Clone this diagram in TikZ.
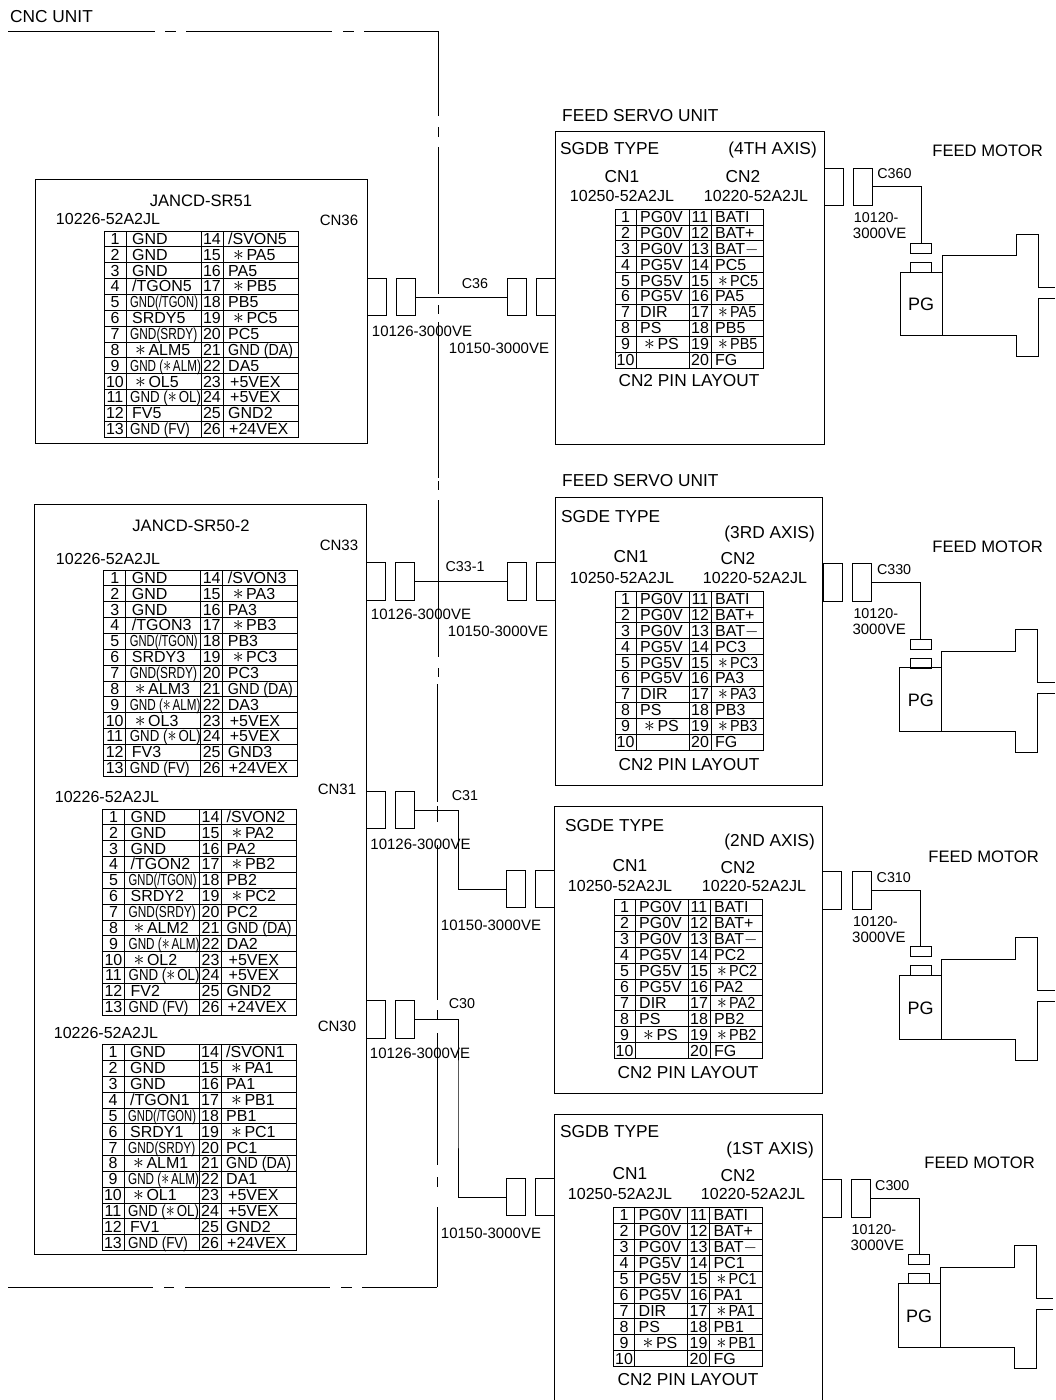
\documentclass[tikz,border=0pt]{standalone}
\usepackage{fontspec}
\usepackage{graphicx}
\setmainfont{Liberation Sans}
\newcommand\sk{\smash{\scalebox{1.25}{$\ast$}}\hspace{2.5pt}}
\newcommand\sq[2]{\smash{\scalebox{#1}[1]{#2}}}
\tikzset{
  lbl/.style={inner sep=0pt,text height=11pt,text depth=0pt,font=\fontsize{16}{18}\selectfont},
  title/.style={inner sep=0pt,text height=12pt,text depth=0pt,font=\fontsize{16.6}{18}\selectfont},
  big/.style={inner sep=0pt,text height=12.5pt,text depth=0pt,font=\fontsize{17.3}{19}\selectfont},
  conlab/.style={inner sep=0pt,text height=10.5pt,text depth=0pt,font=\fontsize{15}{17}\selectfont},
  tiny/.style={inner sep=0pt,text height=10pt,text depth=0pt,font=\fontsize{14.3}{16}\selectfont},
  pg/.style={inner sep=0pt,text height=13pt,text depth=0pt,font=\fontsize{18}{20}\selectfont},
  cellc/.style={lbl,anchor=center},
  celll/.style={lbl,anchor=west},
  wire/.style={line width=.9pt,black},
  box/.style={line width=.9pt,black},
  cnline/.style={line width=.9pt,black},
  grid/.style={line width=.8pt,black},
  conn/.style={draw,line width=.9pt,black,inner sep=0pt,minimum width=19pt,minimum height=37.5pt},
  mini/.style={draw,line width=.9pt,black,inner sep=0pt,minimum width=21pt,minimum height=10pt}
}
% one row of a left-hand table: row, num, text, num, text, text x, text x
\newcommand\lrow[7]{%
  \node[cellc] (\tn-#2) at (11,{(#1-.5)*15.85}) {#2};
  \node[celll] (\tn-t#2) at (#6,{(#1-.5)*15.85}) {#3};
  \node[cellc] (\tn-#4) at (108,{(#1-.5)*15.85}) {#4};
  \node[celll] (\tn-t#4) at (#7,{(#1-.5)*15.85}) {#5};
}
\newcommand\lefttable[5]{%
  \begin{scope}[shift={(#2,#3)}]
    \def\tn{#1}
    \draw[grid] (0,0) rectangle (194,206);
    \foreach \rr in {1,...,12} \draw[grid] (0,{\rr*15.85}) -- (194,{\rr*15.85});
    \foreach \cc in {22,97,119} \draw[grid] (\cc,0) -- (\cc,206);
    \lrow{1}{1}{GND}{14}{/SVON#4}{28}{124}
    \lrow{2}{2}{GND}{15}{\sk PA#4}{28}{129}
    \lrow{3}{3}{GND}{16}{PA#4}{28}{124}
    \lrow{4}{4}{/TGON#4}{17}{\sk PB#4}{28}{129}
    \lrow{5}{5}{\sq{.7}{GND(/TGON)}}{18}{PB#4}{26}{124}
    \lrow{6}{6}{SRDY#4}{19}{\sk PC#4}{28}{129}
    \lrow{7}{7}{\sq{.74}{GND(SRDY)}}{20}{PC#4}{26}{124}
    \lrow{8}{8}{\sk ALM#4}{21}{\sq{.89}{GND (DA)}}{31}{124}
    \lrow{9}{9}{\sq{.73}{GND (\sk ALM)}}{22}{DA#4}{26}{124}
    \lrow{10}{10}{\sk OL#4}{23}{+5VEX}{31}{126}
    \lrow{11}{11}{\sq{.83}{GND (\sk OL)}}{24}{+5VEX}{26}{126}
    \lrow{12}{12}{FV#4}{25}{#5}{28}{124}
    \lrow{13}{13}{\sq{.84}{GND (FV)}}{26}{+24VEX}{26}{125}
  \end{scope}}
\newcommand\rrow[7]{%
  \node[cellc] (\tn-#2) at (10.5,{(#1-.5)*15.9}) {#2};
  \node[celll] (\tn-t#2) at (#6,{(#1-.5)*15.9}) {#3};
  \node[cellc] (\tn-#4) at (85,{(#1-.5)*15.9}) {#4};
  \node[celll] (\tn-t#4) at (#7,{(#1-.5)*15.9}) {#5};
}
\newcommand\righttable[4]{%
  \begin{scope}[shift={(#2,#3)}]
    \def\tn{#1}
    \draw[grid] (0,0) rectangle (148.5,159);
    \foreach \rr in {1,...,9} \draw[grid] (0,{\rr*15.9}) -- (148.5,{\rr*15.9});
    \foreach \cc in {21,74,96} \draw[grid] (\cc,0) -- (\cc,159);
    \rrow{1}{1}{PG0V}{11}{BATI}{25}{100}
    \rrow{2}{2}{PG0V}{12}{BAT+}{25}{100}
    \rrow{3}{3}{PG0V}{13}{BAT$-$}{25}{100}
    \rrow{4}{4}{PG5V}{14}{PC#4}{25}{100}
    \rrow{5}{5}{PG5V}{15}{\sq{.9}{\sk PC#4}}{25}{103}
    \rrow{6}{6}{PG5V}{16}{PA#4}{25}{100}
    \rrow{7}{7}{DIR}{17}{\sq{.9}{\sk PA#4}}{25}{103}
    \rrow{8}{8}{PS}{18}{PB#4}{25}{100}
    \rrow{9}{9}{\sk PS}{19}{\sq{.9}{\sk PB#4}}{29}{103}
    \rrow{10}{10}{}{20}{FG}{25}{100}
  \end{scope}}
% motor with its plug, at the cable connector's top-left corner
\newcommand\motor[4]{%
  \begin{scope}[shift={(#2,#3)}]
    \node[conn,anchor=north west] (#1plug) at (0,0) {};
    \node[tiny,anchor=west] (#1lab) at (24.5,6) {#4};
    \node[tiny,anchor=west] (#1a) at (1,50) {10120-};
    \node[conlab,anchor=west] (#1b) at (0,66) {3000VE};
    \node[mini,anchor=north] (#1s) at (68.5,75.3) {};
    \node[mini,anchor=north] (#1e) at (68.5,94.3) {};
    \draw[wire] (#1plug.east) -| (#1s.north);
    \draw[box] (47.5,104.3) rectangle (89.5,168);
    \draw[box] (89.5,104.3) -- (89.5,88) -- (163.5,88) -- (163.5,66.5) -- (185.5,66.5) -- (185.5,119.5) -- (202.7,119.5);
    \draw[box] (202.7,130.5) -- (185.5,130.5) -- (185.5,189) -- (163.5,189) -- (163.5,168) -- (89.5,168);
    \node[pg] (#1pg) at (68.5,136.5) {PG};
  \end{scope}}
\begin{document}
\begin{tikzpicture}[x=1pt,y=-1pt]
\useasboundingbox (0,0) rectangle (1055,1400);
\fill[white] (0,0) rectangle (1055,1400);
\clip (0,0) rectangle (1055,1400);

% CNC unit outline
\node[big,anchor=west] (cnc) at (10,16) {CNC UNIT};
\foreach \pa/\pb in {8/155,165/176,186/332,343/354,364/438.5} \draw[cnline] (\pa,31) -- (\pb,31);
\foreach \pa/\pb in {8/153,164/174,185/330,341/352,362/437} \draw[cnline] (\pa,1287) -- (\pb,1287);
\foreach \pa/\pb in {31/116,127/137,147/294,305/314,322/478,481/490,500/657,668/677} \draw[cnline] (438.5,\pa) -- (438.5,\pb);
\foreach \pa/\pb in {684/802,806/822,845/1000,1010/1020,1033/1165,1177/1187,1207/1287} \draw[cnline] (437.3,\pa) -- (437.3,\pb);

% JANCD-SR51
\draw[box] (35,179) rectangle (367,443);
\node[title] (sr51) at (201,200) {JANCD-SR51};
\node[lbl] (sr51p) at (108,219) {10226-52A2JL};
\node[conlab] (cn36) at (339,220) {CN36};
\lefttable{ta}{104}{231}{5}{GND2}

% JANCD-SR50-2
\draw[box] (34.5,504) rectangle (366.3,1254);
\node[title] (sr50) at (191,525) {JANCD-SR50-2};
\node[conlab] (cn33) at (339,545) {CN33};
\node[lbl] (sr50a) at (108,559) {10226-52A2JL};
\lefttable{tb}{103.7}{570}{3}{GND3}
\node[lbl] (sr50b) at (107,797) {10226-52A2JL};
\node[conlab] (cn31) at (337,789) {CN31};
\lefttable{tc}{102.5}{809}{2}{GND2}
\node[lbl] (sr50c) at (106,1033) {10226-52A2JL};
\node[conlab] (cn30) at (337,1026) {CN30};
\lefttable{td}{102}{1044.5}{1}{GND2}

% board connectors and plugs
\foreach \nn/\xa/\xb/\yy in {a/376.5/405.5/297,b/376/404.5/581.5,c/375.5/404.5/810,d/375.5/404.5/1019.5}{
  \node[conn] (bd\nn) at (\xa,\yy) {};
  \node[conn] (pl\nn) at (\xb,\yy) {};
}
\foreach \nn/\xa/\xb/\yy in {a/517/546/297,b/516.5/545.5/581.5,c/515.5/544.5/889,d/515.5/544.5/1197}{
  \node[conn] (pr\nn) at (\xa,\yy) {};
  \node[conn] (sv\nn) at (\xb,\yy) {};
}
\coordinate (jc) at (458.5,850);
\coordinate (jd) at (458,1100);
\draw[wire] (pla.east) -- (pra.west);
\draw[wire] (plb.east) -- (prb.west);
\draw[wire] (plc.east) -| (jc) |- (prc.west);
\draw[wire] (pld.east) -| (jd) |- (prd.west);

\node[tiny] (c36) at (475,283) {C36};
\node[tiny] (c33) at (465,566) {C33-1};
\node[tiny] (c31) at (465,795) {C31};
\node[tiny] (c30) at (462,1003) {C30};
\node[conlab] (ra) at (422,331) {10126-3000VE};
\node[conlab] (rb) at (421,614) {10126-3000VE};
\node[conlab] (rc) at (420.5,844) {10126-3000VE};
\node[conlab] (rd) at (420,1053) {10126-3000VE};
\node[conlab] (sa) at (499,348) {10150-3000VE};
\node[conlab] (sb) at (498,631) {10150-3000VE};
\node[conlab] (sc) at (491,925) {10150-3000VE};
\node[conlab] (sd) at (491,1233) {10150-3000VE};

% 4th axis
\node[big,anchor=west] (fa) at (562,115) {FEED SERVO UNIT};
\draw[box] (555,131) rectangle (824,444);
\node[big,anchor=west] (fa1) at (560,148) {SGDB TYPE};
\node[big,anchor=east] (fa2) at (817,148) {(4TH AXIS)};
\node[big] (fa3) at (622,176) {CN1};
\node[big] (fa4) at (743,176) {CN2};
\node[lbl] (fa5) at (622,196) {10250-52A2JL};
\node[lbl] (fa6) at (756,196) {10220-52A2JL};
\righttable{rta}{615}{209}{5}
\node[big] (fa7) at (689,380) {CN2 PIN LAYOUT};
\node[conn,anchor=north west] (oa) at (824,167.7) {};
\node[title,anchor=east] (ma) at (1043,150) {FEED MOTOR};
\motor{ma}{852.7}{167.7}{C360}

% 3rd axis
\node[big,anchor=west] (fb) at (562,480) {FEED SERVO UNIT};
\draw[box] (555,497) rectangle (822,785);
\node[big,anchor=west] (fb1) at (561,516) {SGDE TYPE};
\node[big,anchor=east] (fb2) at (815,532) {(3RD AXIS)};
\node[big] (fb3) at (631,556) {CN1};
\node[big] (fb4) at (738,558) {CN2};
\node[lbl] (fb5) at (622,578) {10250-52A2JL};
\node[lbl] (fb6) at (755,578) {10220-52A2JL};
\righttable{rtb}{615}{591}{3}
\node[big] (fb7) at (689,764) {CN2 PIN LAYOUT};
\node[conn,anchor=north west] (ob) at (823,563.3) {};
\node[title,anchor=east] (mb) at (1043,546) {FEED MOTOR};
\motor{mb}{852.3}{563.3}{C330}

% 2nd axis
\draw[box] (554,806) rectangle (822,1093);
\node[big,anchor=west] (fc1) at (565,825) {SGDE TYPE};
\node[big,anchor=east] (fc2) at (815,840) {(2ND AXIS)};
\node[big] (fc3) at (630,865) {CN1};
\node[big] (fc4) at (738,867) {CN2};
\node[lbl] (fc5) at (620,886) {10250-52A2JL};
\node[lbl] (fc6) at (754,886) {10220-52A2JL};
\righttable{rtc}{614}{899.5}{2}
\node[big] (fc7) at (688,1072) {CN2 PIN LAYOUT};
\node[conn,anchor=north west] (oc) at (822,871) {};
\node[title,anchor=east] (mc) at (1039,856) {FEED MOTOR};
\motor{mc}{852}{871}{C310}

% 1st axis
\draw[box] (554,1400) -- (554,1114) -- (822,1114) -- (822,1400);
\node[big,anchor=west] (fd1) at (560,1131) {SGDB TYPE};
\node[big,anchor=east] (fd2) at (814,1148) {(1ST AXIS)};
\node[big] (fd3) at (630,1173) {CN1};
\node[big] (fd4) at (738,1175) {CN2};
\node[lbl] (fd5) at (620,1194) {10250-52A2JL};
\node[lbl] (fd6) at (753,1194) {10220-52A2JL};
\righttable{rtd}{613.5}{1207.5}{1}
\node[big] (fd7) at (688,1379) {CN2 PIN LAYOUT};
\node[conn,anchor=north west] (od) at (822,1179) {};
\node[title,anchor=east] (md) at (1035,1162) {FEED MOTOR};
\motor{md}{850.5}{1179}{C300}
\end{tikzpicture}
\end{document}
